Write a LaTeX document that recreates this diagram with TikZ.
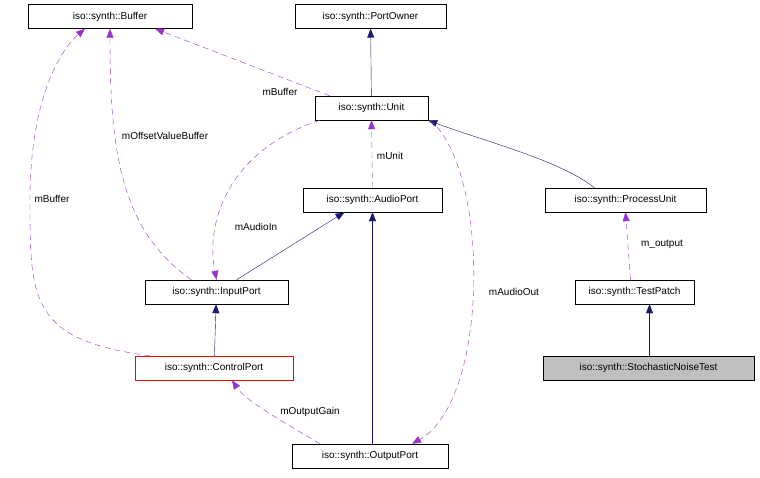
\documentclass[tikz,border=0pt]{standalone}
\usepackage{fontspec}
\setmainfont{Liberation Sans}
\usetikzlibrary{arrows.meta}
\definecolor{navy}{RGB}{25,25,112}
\definecolor{dpurple}{RGB}{153,50,204}
\tikzset{
    cls/.style={draw=black, fill=white, minimum height=24pt, inner sep=0pt, font=\fontsize{10}{11}\selectfont},
    inh/.style={navy, -{Triangle[length=9pt,width=7pt]}},
    use/.style={dpurple, dashed, dash pattern=on 6pt off 4pt, -{Triangle[length=9pt,width=7pt]}},
    lbl/.style={font=\fontsize{10}{11}\selectfont, fill=white, inner sep=1pt}
}
\begin{document}
\begin{tikzpicture}[x=1pt, y=-1pt]
            \useasboundingbox (0,0) rectangle (760,477);
            % classes
            \node[cls, minimum width=164pt] (buffer) at (110,16.5) {iso::synth::Buffer};
            \node[cls, minimum width=151pt] (owner) at (370.5,16.5) {iso::synth::PortOwner};
            \node[cls, minimum width=113pt] (unit) at (371.5,108) {iso::synth::Unit};
            \node[cls, minimum width=139pt] (audio) at (372.5,200) {iso::synth::AudioPort};
            \node[cls, minimum width=161pt] (process) at (625.5,200) {iso::synth::ProcessUnit};
            \node[cls, minimum width=143pt] (input) at (216.5,292) {iso::synth::InputPort};
            \node[cls, minimum width=119pt] (patch) at (634.5,292) {iso::synth::TestPatch};
            \node[cls, draw=red, minimum width=158pt] (control) at (214,368) {iso::synth::ControlPort};
            \node[cls, fill=black!25, minimum width=211pt] (noise) at (648.5,368) {iso::synth::StochasticNoiseTest};
            \node[cls, minimum width=156pt] (output) at (370,456) {iso::synth::OutputPort};
            % inheritance
            \draw[inh] (unit) -- (owner);
            \draw[inh] ([xshift=-31pt]process.north) .. controls (560,160) and (480,140) .. (unit.south east);
            \draw[inh] ([xshift=20pt]input.north) -- ([xshift=-28pt]audio.south);
            \draw[inh] (audio.south |- output.north) -- (audio.south);
            \draw[inh] (control) -- (input);
            \draw[inh] ([xshift=1pt]noise.north) -- ([xshift=15pt]patch.south);
            % usage
            \draw[use] ([xshift=15pt]unit.north west) -- ([xshift=45pt]buffer.south);
            \draw[use] ([xshift=-25pt]input.north) .. controls (120,230) and (110,150) .. (buffer.south);
            \draw[use] ([xshift=15pt]control.north west) .. controls (30,340) and (30,300) .. (30,200) .. controls (30,100) and (60,50) .. ([xshift=-25pt]buffer.south);
            \draw[use] ([xshift=5pt]unit.south west) .. controls (230,150) and (205,220) .. (input.north);
            \draw[use, draw=gray, -{Triangle[length=9pt,width=7pt,color=dpurple]}] (audio.north) -- (unit.south);
            \draw[use] ([xshift=-4pt]patch.north) -- (process.south);
            \draw[use] ([xshift=2pt]unit.south east) .. controls (490,170) and (490,400) .. ([xshift=42pt]output.north);
            \draw[use] ([xshift=-50pt]output.north) .. controls (280,420) and (245,400) .. ([xshift=18pt]control.south);
            % labels
            \node[lbl] (l1) at (280,92) {mBuffer};
            \node[lbl] (l2) at (165,136) {mOffsetValueBuffer};
            \node[lbl] (l3) at (52,199) {mBuffer};
            \node[lbl] (l4) at (256,227) {mAudioIn};
            \node[lbl] (l5) at (390,156) {mUnit};
            \node[lbl] (l6) at (662,244) {m\_output};
            \node[lbl] (l7) at (514,292) {mAudioOut};
            \node[lbl] (l8) at (310,412) {mOutputGain};
        \end{tikzpicture}
\end{document}
